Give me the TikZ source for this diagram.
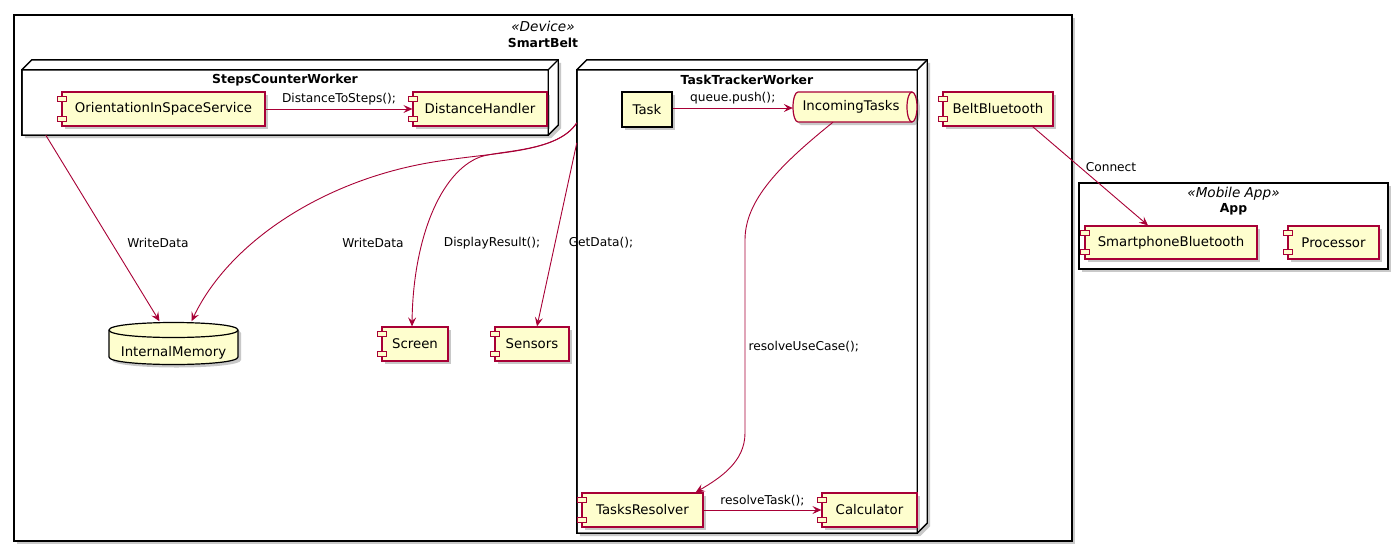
\documentclass[tikz,border=0pt]{standalone}
\usepackage{fontspec}
\setmainfont{DejaVu Sans}
\usepackage{xcolor}
\usetikzlibrary{arrows.meta,positioning,shadows}

\definecolor{umlred}{HTML}{A80036}
\definecolor{umlfill}{HTML}{FEFECE}

\tikzset{
  compfont/.style={font=\fontsize{13.3}{16}\selectfont},
  lblfont/.style={font=\fontsize{12.2}{14}\selectfont},
  umlshadow/.style={drop shadow={shadow xshift=3pt, shadow yshift=-3pt, opacity=.3, fill=black!70}},
  comp/.style={draw=umlred, fill=umlfill, line width=1.2pt, minimum height=34, inner sep=0pt, compfont, umlshadow},
  umlframe/.style={draw=black, line width=1.4pt, fill=white, inner sep=0pt},
  hidden/.style={inner sep=0pt},
  boxtitle/.style={font=\bfseries\fontsize{12.4}{15}\selectfont},
  stereo/.style={font=\itshape\fontsize{13.6}{16}\selectfont},
  umlarrow/.style={->, draw=umlred, line width=0.9pt},
  >={Stealth[length=9pt,width=8pt,inset=3.5pt]},
}

\begin{document}
\begin{tikzpicture}[x=1pt, y=-1pt]
    \useasboundingbox (0,0) rectangle (1398,552);

    % SmartBelt device
    \node [umlframe, umlshadow, minimum width=1058, minimum height=526] (belt) at (543,278) {};
    \node [stereo] (beltstereo) at (543,26) {«Device»};
    \node [boxtitle] (belttitle) at (543,43) {SmartBelt};

    % StepsCounterWorker
    \node [hidden, minimum width=526, minimum height=65] (steps) at (285,102.5) {};
    \draw [black, line width=1.4pt, fill=white, umlshadow] (steps.south west) -- (steps.north west) -- ++(10pt,10pt)
        -- ([shift={(10pt,10pt)}]steps.north east) -- ([shift={(10pt,10pt)}]steps.south east) -- (steps.south east) -- cycle;
    \draw [black, line width=1.4pt] (steps.north west) rectangle (steps.south east) (steps.north east) -- ++(10pt,10pt);
    \node [boxtitle] (stepstitle) at (285,80) {StepsCounterWorker};

    % TaskTrackerWorker
    \node [hidden, minimum width=340, minimum height=463] (tracker) at (747,301.5) {};
    \draw [black, line width=1.4pt, fill=white, umlshadow] (tracker.south west) -- (tracker.north west) -- ++(10pt,10pt)
        -- ([shift={(10pt,10pt)}]tracker.north east) -- ([shift={(10pt,10pt)}]tracker.south east) -- (tracker.south east) -- cycle;
    \draw [black, line width=1.4pt] (tracker.north west) rectangle (tracker.south east) (tracker.north east) -- ++(10pt,10pt);
    \node [boxtitle] (trackertitle) at (747,80) {TaskTrackerWorker};

    % Mobile App
    \node [umlframe, umlshadow, minimum width=309, minimum height=86] (app) at (1233.5,226) {};
    \node [stereo] (appstereo) at (1233.5,194) {«Mobile App»};
    \node [boxtitle] (apptitle) at (1233.5,209) {App};

    % Components
    \node [comp, minimum width=203] (orient) at (163.5,109) {OrientationInSpaceService};
    \node [comp, minimum width=134] (dist) at (480,109) {DistanceHandler};
    \node [comp, draw=black, minimum width=50, minimum height=35] (task) at (647,109.5) {Task};
    \node [comp, minimum width=110] (beltbt) at (998,109) {BeltBluetooth};
    \node [comp, minimum width=66] (screen) at (415,344) {Screen};
    \node [comp, minimum width=74] (sensors) at (532,344) {Sensors};
    \node [comp, minimum width=121] (resolver) at (642.5,510) {TasksResolver};
    \node [comp, minimum width=95] (calc) at (869.5,510) {Calculator};
    \node [comp, minimum width=172, minimum height=33] (phonebt) at (1171,242.5) {SmartphoneBluetooth};
    \node [comp, minimum width=91, minimum height=33] (proc) at (1333.5,242.5) {Processor};

    \foreach \c in {orient,dist,beltbt,screen,sensors,resolver,calc,phonebt,proc} {
        \draw [draw=umlred, fill=umlfill, line width=1pt] ([shift={(-4pt,-5pt)}]\c.north west) rectangle ++(9pt,-5pt);
        \draw [draw=umlred, fill=umlfill, line width=1pt] ([shift={(-4pt,5pt)}]\c.south west) rectangle ++(9pt,5pt);
    }

    % IncomingTasks queue
    \draw [umlred, line width=1.2pt, fill=umlfill, umlshadow] (798,92) -- (912,92)
        arc [start angle=90, end angle=-90, x radius=5pt, y radius=15pt] -- (798,122)
        arc [start angle=270, end angle=90, x radius=5pt, y radius=15pt] -- cycle;
    \draw [umlred, line width=1.2pt] (912,92) arc [start angle=90, end angle=270, x radius=5pt, y radius=15pt];
    \node [hidden, compfont, minimum width=116, minimum height=30] (queue) at (851,107) {IncomingTasks};

    % InternalMemory database
    \draw [black, line width=1.2pt, fill=umlfill, umlshadow] (109,330) .. controls (109,320) and (238,320) .. (238,330)
        -- (238,357) .. controls (238,367) and (109,367) .. (109,357) -- cycle;
    \draw [black, line width=1.2pt] (109,330) .. controls (109,340) and (238,340) .. (238,330);
    \node [hidden, minimum width=129, minimum height=45] (mem) at (173.5,344) {};
    \node [compfont] (memlabel) at (173.5,353) {InternalMemory};

    % Connections
    \draw [umlarrow] (orient.east) -- (dist.west) node [midway, above, lblfont] {DistanceToSteps();};
    \draw [umlarrow] ([yshift=1.5pt]task.east) -- ([yshift=1.5pt]task.east -| queue.west) node [midway, above, lblfont] {queue.push();};
    \draw [umlarrow] (resolver.east) -- (calc.west) node [midway, above, lblfont] {resolveTask();};
    \draw [umlarrow] ([xshift=24pt]steps.south west) -- ([xshift=-14pt]mem.north);
    \draw [umlarrow] ([yshift=-53pt]tracker.north west) .. controls (558,152) and (500,152) .. (447,160)
        .. controls (330,175) and (230,240) .. ([xshift=18pt]mem.north);
    \draw [umlarrow] ([yshift=-53pt]tracker.north west) .. controls (558,152) and (500,150) .. (480,157)
        .. controls (440,172) and (413,240) .. ([xshift=-3pt]screen.north);
    \draw [umlarrow] ([yshift=-73pt]tracker.north west) -- ([xshift=5pt]sensors.north);
    \draw [umlarrow] ([xshift=-18pt]queue.south) .. controls (780,165) and (745,200) .. (745,240) -- (745,433)
        .. controls (745,462) and (720,478) .. ([xshift=-8pt]resolver.north east);
    \draw [umlarrow] ([xshift=-21pt]beltbt.south east) -- ([xshift=-23pt]phonebt.north);

    % Edge labels
    \node [lblfont] (writesteps) at (158,243) {WriteData};
    \node [lblfont] (writetracker) at (373,243) {WriteData};
    \node [lblfont] (display) at (492,243) {DisplayResult();};
    \node [lblfont] (getdata) at (601,243) {GetData();};
    \node [lblfont, anchor=west] (usecase) at (745,347) {resolveUseCase();};
    \node [lblfont] (connect) at (1111,167) {Connect};
\end{tikzpicture}
\end{document}
